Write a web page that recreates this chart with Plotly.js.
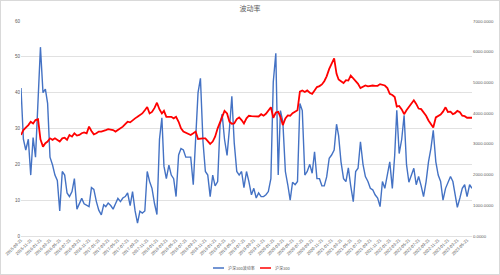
<!DOCTYPE html>
<html><head><meta charset="utf-8">
<script src="https://cdn.plot.ly/plotly-3.0.1.min.js"></script>
<style>html,body{margin:0;padding:0;background:#fff}#chart{width:498px;height:273px;border:1px solid #d9d9d9}</style>
</head><body><div id="chart"></div>
<script>
const chartTitle = "波动率";
const seriesNames = ["沪深300波动率", "沪深300"];
// semi-monthly samples (21st and 6th of each month) from 2015-09-21 to 2023-06-21
const firstSample = {year: 2015, month: 9};
const volatility = [
  41.3, 27, 24, 27, 17, 27.5, 22, 36, 52.7, 40,
  41, 37, 22, 19.8, 17, 15.5, 7, 18, 17, 12,
  11, 12.4, 16, 7.5, 9, 10.5, 9, 8.7, 8.2, 13.5,
  13, 9.6, 7.2, 5.9, 8.7, 8.2, 9.2, 8.5, 7.5, 9,
  10.5, 9.6, 10.6, 11, 12, 8.5, 12.4, 7, 3.6, 6.9,
  6.4, 7, 18, 15.2, 13.3, 9, 6, 27, 33, 19.5,
  16, 19.8, 17, 16, 11, 22.6, 24.4, 24, 22, 22,
  22, 14.3, 29, 40, 44, 26.3, 18, 17, 11, 17,
  14, 15.2, 31, 34, 27, 22.5, 30, 39, 26, 18,
  17, 18, 13.5, 18, 15.2, 11.5, 13.3, 10.6, 12, 11,
  11, 11.5, 12.4, 16, 43, 51, 17, 35, 31.9, 18,
  14.3, 10, 15, 14.3, 15.2, 37, 35, 17, 18, 20,
  17.5, 23.5, 16, 16, 14, 14, 16.5, 21.7, 22.6, 24,
  31.2, 28, 20.7, 16, 15.2, 19, 14, 9.6, 18, 18.9,
  26.3, 20, 16.6, 15.2, 13.3, 12.9, 11.5, 10.6, 8.2, 15.2,
  13.3, 17, 20.7, 13.3, 22.6, 35.1, 23, 27, 33.7, 20,
  15, 17, 18.9, 14.3, 16.6, 14, 11, 15.2, 20.7, 24.4,
  29.5, 20.7, 17, 15.2, 10, 13.3, 15, 16.6, 15.2, 11.5,
  8, 10.6, 13.3, 14.3, 11, 14.3, 13.3
];
const csi300 = [
  3290, 3450, 3530, 3610, 3720, 3665, 3775, 3800, 3150, 2910,
  3020, 3075, 3180, 3130, 3180, 3130, 3075, 3180, 3200, 3130,
  3290, 3235, 3345, 3270, 3290, 3345, 3375, 3345, 3560, 3420,
  3310, 3345, 3400, 3400, 3440, 3450, 3480, 3460, 3450, 3400,
  3450, 3505, 3560, 3645, 3720, 3700, 3775, 3830, 3880, 3935,
  3990, 4095, 4200, 3990, 4040, 4170, 4340, 4120, 3990, 4075,
  3880, 3880, 3880, 3830, 3880, 3720, 3505, 3400, 3365, 3320,
  3290, 3345, 3400, 3160, 3180, 3180, 3180, 3095, 3000, 3075,
  3235, 3505, 3720, 3880, 4075, 3990, 3720, 3655, 3665, 3805,
  3860, 3775, 3665, 3830, 3915, 3900, 3890, 3900, 3890, 3965,
  3915, 3980, 4065, 4190, 3850, 4020, 4040, 3880, 3610, 3830,
  3925, 3915, 4000, 4040, 4095, 4700, 4740, 4690, 4740, 4665,
  4630, 4740, 4850, 4880, 4935, 5040, 5200, 5440, 5590, 5780,
  5280, 5095, 5040, 4980, 5075, 5060, 5225, 5140, 5060, 4955,
  4815, 4860, 4900, 4870, 4890, 4900, 4890, 4890, 4945, 4925,
  4900, 4815, 4630, 4590, 4525, 4215, 4235, 4120, 3965, 4095,
  4200, 4345, 4420, 4300, 4150, 4130, 4020, 3915, 3760, 3660,
  3530, 3860, 3900, 3955, 4050, 4190, 4040, 4050, 3965, 4000,
  4075, 4030, 3915, 3900, 3850, 3840, 3850
];
const tickLabels = [
  "2015-09-21","2015-11-21","2016-01-21","2016-03-21","2016-05-21","2016-07-21","2016-09-21","2016-11-21",
  "2017-01-21","2017-03-21","2017-05-21","2017-07-21","2017-09-21","2017-11-21",
  "2018-01-21","2018-03-21","2018-05-21","2018-07-21","2018-09-21","2018-11-21",
  "2019-01-21","2019-03-21","2019-05-21","2019-07-21","2019-09-21","2019-11-21",
  "2020-01-21","2020-03-21","2020-05-21","2020-07-21","2020-09-21","2020-11-21",
  "2021-01-21","2021-03-21","2021-05-21","2021-07-21","2021-09-21","2021-11-21",
  "2022-01-21","2022-03-21","2022-05-21","2022-07-21","2022-09-21","2022-11-21",
  "2023-01-21","2023-03-21","2023-05-21"
];

// sampling dates: even samples on the 21st, odd samples on the 6th of the following month
const pad = n => (n < 10 ? "0" : "") + n;
const dates = volatility.map((_, k) => {
  const off = k % 2 === 0 ? k / 2 : (k + 1) / 2;
  const total = firstSample.year * 12 + (firstSample.month - 1) + off;
  const y = Math.floor(total / 12), m = total % 12 + 1;
  return y + "-" + pad(m) + "-" + (k % 2 === 0 ? "21" : "06");
});

const FONT = '"Liberation Sans", "Noto Sans CJK SC", sans-serif';
const GREY = '#595959';
const W = 498, H = 273, M = {l: 20, r: 27, t: 20, b: 38};
const pw = W - M.l - M.r, ph = H - M.t - M.b;
// legend placement helpers (pixel -> paper)
const px = v => (v - 1 - M.l) / pw;
const py = v => (H - M.b + 1 - v) / ph;

const traces = [
  {x: dates, y: volatility, type: 'scatter', mode: 'lines', name: seriesNames[0],
   line: {color: '#4472C4', width: 1.4}, yaxis: 'y', hoverinfo: 'skip'},
  {x: dates, y: csi300, type: 'scatter', mode: 'lines', name: seriesNames[1],
   line: {color: '#FF0000', width: 1.8}, yaxis: 'y2', hoverinfo: 'skip'}
];

const legY = py(268);
const layout = {
  width: W, height: H, margin: M,
  paper_bgcolor: '#fff', plot_bgcolor: '#fff',
  font: {family: FONT, color: GREY},
  showlegend: false,
  title: {text: chartTitle, font: {size: 7, color: GREY, family: '"Noto Sans CJK SC", sans-serif'},
          x: 0.5, xanchor: 'center', xref: 'container', y: 1 - 8 / H, yanchor: 'middle', yref: 'container'},
  xaxis: {type: 'date', range: [dates[0], dates[dates.length - 1]],
          tickvals: tickLabels, ticktext: tickLabels, tickangle: -45,
          tickfont: {size: 4.2, color: GREY}, showgrid: false, zeroline: false, showline: false,
          ticks: '', automargin: false, fixedrange: true},
  yaxis: {range: [0, 60], tick0: 0, dtick: 10, gridcolor: '#d9d9d9', gridwidth: 0.8,
          zeroline: true, zerolinecolor: '#d9d9d9', zerolinewidth: 0.8, showline: false,
          tickfont: {size: 4.5, color: GREY}, ticks: '', automargin: false, fixedrange: true},
  yaxis2: {overlaying: 'y', side: 'right', range: [0, 7000], tick0: 0, dtick: 1000, tickformat: '.4f',
           showgrid: false, zeroline: false, showline: false, tickfont: {size: 4.3, color: GREY},
           ticks: '', automargin: false, fixedrange: true},
  shapes: [
    {type: 'line', xref: 'paper', yref: 'paper', x0: px(213), x1: px(224), y0: legY, y1: legY,
     line: {color: '#4472C4', width: 1.5}},
    {type: 'line', xref: 'paper', yref: 'paper', x0: px(260), x1: px(271), y0: legY, y1: legY,
     line: {color: '#FF0000', width: 1.5}}
  ],
  annotations: [
    {xref: 'paper', yref: 'paper', x: px(226), y: legY, xanchor: 'left', yanchor: 'middle',
     text: seriesNames[0], showarrow: false, font: {size: 4, color: GREY, family: '"Noto Sans CJK SC", sans-serif'}},
    {xref: 'paper', yref: 'paper', x: px(273), y: legY, xanchor: 'left', yanchor: 'middle',
     text: seriesNames[1], showarrow: false, font: {size: 4, color: GREY, family: '"Noto Sans CJK SC", sans-serif'}}
  ]
};

Plotly.newPlot('chart', traces, layout, {displayModeBar: false, staticPlot: true});
</script>
</body></html>
